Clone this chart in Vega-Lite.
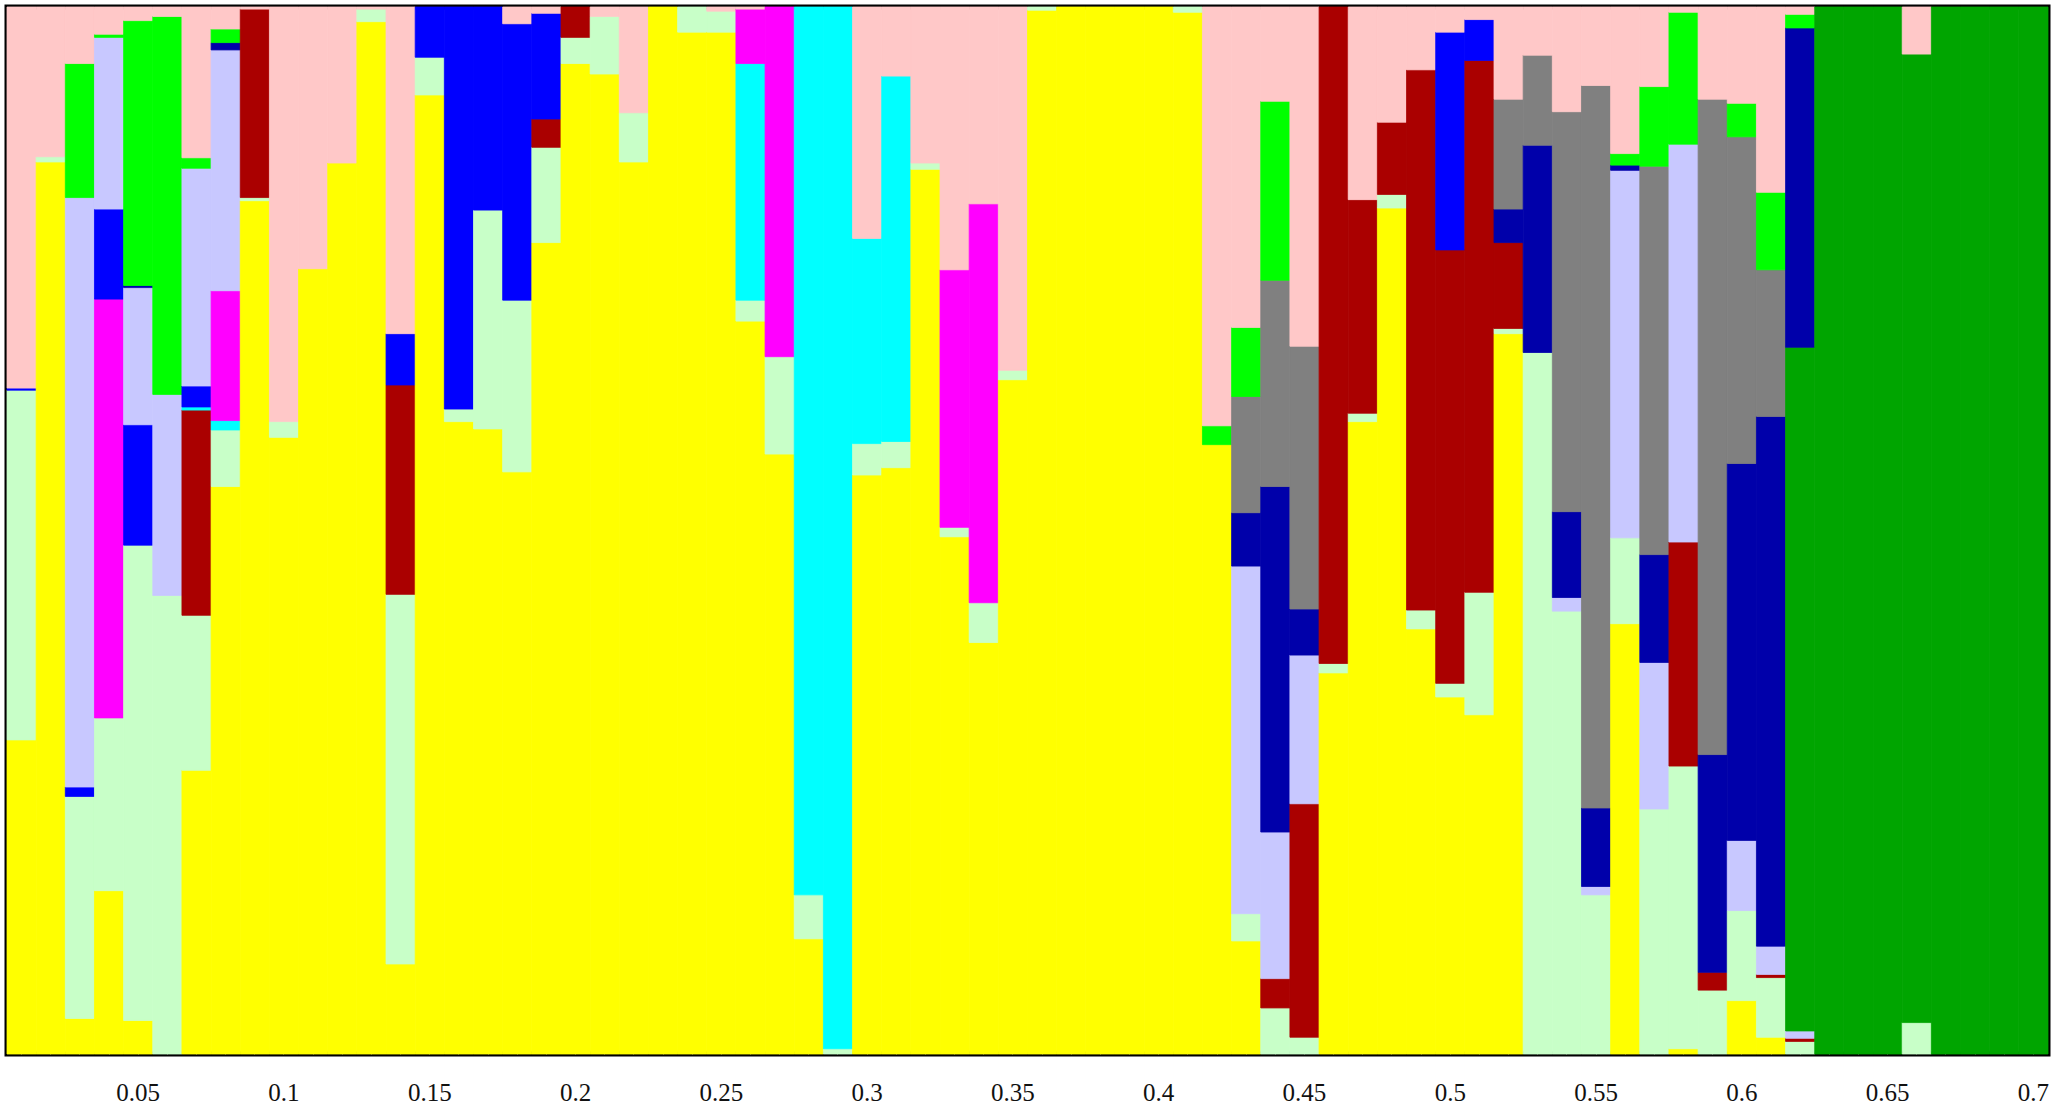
{
  "$schema": "https://vega.github.io/schema/vega-lite/v6.json",
  "autosize": "none",
  "width": 2041,
  "height": 1047,
  "padding": {"left": 7, "top": 7, "right": 4, "bottom": 54},
  "background": "white",
  "config": {"view": {"stroke": "#000000", "strokeWidth": 5}},
  "data": {"values": [
    {"x": 0.01, "c01": 0.300, "c02": 0.334, "c06": 0.002, "c12": 0.364},
    {"x": 0.02, "c01": 0.852, "c02": 0.005, "c12": 0.143},
    {"x": 0.03, "c01": 0.034, "c02": 0.212, "c06": 0.009, "c07": 0.563, "c11": 0.128, "c12": 0.054},
    {"x": 0.04, "c01": 0.156, "c02": 0.165, "c05": 0.400, "c06": 0.086, "c07": 0.164, "c11": 0.003, "c12": 0.026},
    {"x": 0.05, "c01": 0.032, "c02": 0.454, "c06": 0.115, "c07": 0.131, "c09": 0.002, "c11": 0.253, "c12": 0.013},
    {"x": 0.06, "c02": 0.438, "c07": 0.192, "c11": 0.361, "c12": 0.009},
    {"x": 0.07, "c01": 0.271, "c02": 0.148, "c03": 0.196, "c04": 0.003, "c06": 0.020, "c07": 0.208, "c11": 0.010, "c12": 0.144},
    {"x": 0.08, "c01": 0.542, "c02": 0.054, "c04": 0.009, "c05": 0.124, "c07": 0.230, "c09": 0.007, "c11": 0.013, "c12": 0.021},
    {"x": 0.09, "c01": 0.815, "c02": 0.003, "c03": 0.180, "c12": 0.002},
    {"x": 0.10, "c01": 0.589, "c02": 0.015, "c12": 0.396},
    {"x": 0.11, "c01": 0.750, "c12": 0.250},
    {"x": 0.12, "c01": 0.851, "c12": 0.149},
    {"x": 0.13, "c01": 0.986, "c02": 0.012, "c12": 0.002},
    {"x": 0.14, "c01": 0.086, "c02": 0.353, "c03": 0.200, "c06": 0.049, "c12": 0.312},
    {"x": 0.15, "c01": 0.916, "c02": 0.036, "c06": 0.048},
    {"x": 0.16, "c01": 0.604, "c02": 0.012, "c06": 0.384},
    {"x": 0.17, "c01": 0.597, "c02": 0.209, "c06": 0.194},
    {"x": 0.18, "c01": 0.556, "c02": 0.164, "c06": 0.264, "c12": 0.016},
    {"x": 0.19, "c01": 0.775, "c02": 0.091, "c03": 0.027, "c06": 0.101, "c12": 0.006},
    {"x": 0.20, "c01": 0.946, "c02": 0.025, "c03": 0.029},
    {"x": 0.21, "c01": 0.936, "c02": 0.055, "c12": 0.009},
    {"x": 0.22, "c01": 0.852, "c02": 0.047, "c12": 0.101},
    {"x": 0.23, "c01": 1.0},
    {"x": 0.24, "c01": 0.976, "c02": 0.024},
    {"x": 0.25, "c01": 0.976, "c02": 0.020, "c12": 0.004},
    {"x": 0.26, "c01": 0.700, "c02": 0.020, "c04": 0.226, "c05": 0.052, "c12": 0.002},
    {"x": 0.27, "c01": 0.573, "c02": 0.093, "c05": 0.334},
    {"x": 0.28, "c01": 0.110, "c02": 0.042, "c04": 0.848},
    {"x": 0.29, "c02": 0.005, "c04": 0.995},
    {"x": 0.30, "c01": 0.553, "c02": 0.030, "c04": 0.196, "c12": 0.221},
    {"x": 0.31, "c01": 0.560, "c02": 0.025, "c04": 0.349, "c12": 0.066},
    {"x": 0.32, "c01": 0.845, "c02": 0.006, "c12": 0.149},
    {"x": 0.33, "c01": 0.494, "c02": 0.009, "c05": 0.246, "c12": 0.251},
    {"x": 0.34, "c01": 0.393, "c02": 0.038, "c05": 0.381, "c12": 0.188},
    {"x": 0.35, "c01": 0.644, "c02": 0.009, "c12": 0.347},
    {"x": 0.36, "c01": 0.997, "c02": 0.003},
    {"x": 0.37, "c01": 1.0},
    {"x": 0.38, "c01": 1.0},
    {"x": 0.39, "c01": 1.0},
    {"x": 0.40, "c01": 1.0},
    {"x": 0.41, "c01": 0.995, "c02": 0.005},
    {"x": 0.42, "c01": 0.582, "c11": 0.018, "c12": 0.400},
    {"x": 0.43, "c01": 0.108, "c02": 0.026, "c07": 0.332, "c09": 0.051, "c10": 0.111, "c11": 0.066, "c12": 0.306},
    {"x": 0.44, "c02": 0.044, "c03": 0.028, "c07": 0.140, "c09": 0.330, "c10": 0.197, "c11": 0.171, "c12": 0.090},
    {"x": 0.45, "c02": 0.016, "c03": 0.223, "c07": 0.142, "c09": 0.044, "c10": 0.251, "c12": 0.324},
    {"x": 0.46, "c01": 0.364, "c02": 0.009, "c03": 0.627},
    {"x": 0.47, "c01": 0.604, "c02": 0.008, "c03": 0.204, "c12": 0.184},
    {"x": 0.48, "c01": 0.808, "c02": 0.013, "c03": 0.069, "c12": 0.110},
    {"x": 0.49, "c01": 0.406, "c02": 0.018, "c03": 0.516, "c12": 0.060},
    {"x": 0.50, "c01": 0.341, "c02": 0.013, "c03": 0.414, "c06": 0.208, "c12": 0.024},
    {"x": 0.51, "c01": 0.324, "c02": 0.117, "c03": 0.508, "c06": 0.039, "c12": 0.012},
    {"x": 0.52, "c01": 0.688, "c02": 0.005, "c03": 0.082, "c09": 0.032, "c10": 0.105, "c12": 0.088},
    {"x": 0.53, "c02": 0.670, "c09": 0.198, "c10": 0.086, "c12": 0.046},
    {"x": 0.54, "c02": 0.423, "c07": 0.013, "c09": 0.082, "c10": 0.382, "c12": 0.100},
    {"x": 0.55, "c02": 0.152, "c07": 0.008, "c09": 0.075, "c10": 0.690, "c12": 0.075},
    {"x": 0.56, "c01": 0.411, "c02": 0.082, "c07": 0.351, "c09": 0.005, "c11": 0.011, "c12": 0.140},
    {"x": 0.57, "c02": 0.234, "c07": 0.140, "c09": 0.103, "c10": 0.371, "c11": 0.076, "c12": 0.076},
    {"x": 0.58, "c01": 0.005, "c02": 0.270, "c03": 0.214, "c07": 0.380, "c11": 0.126, "c12": 0.005},
    {"x": 0.59, "c02": 0.061, "c03": 0.017, "c09": 0.208, "c10": 0.626, "c12": 0.088},
    {"x": 0.60, "c01": 0.051, "c02": 0.086, "c07": 0.067, "c09": 0.360, "c10": 0.312, "c11": 0.032, "c12": 0.092},
    {"x": 0.61, "c01": 0.016, "c02": 0.057, "c03": 0.003, "c07": 0.027, "c09": 0.506, "c10": 0.140, "c11": 0.074, "c12": 0.177},
    {"x": 0.62, "c02": 0.012, "c03": 0.003, "c07": 0.007, "c08": 0.653, "c09": 0.305, "c11": 0.013, "c12": 0.007},
    {"x": 0.63, "c08": 1.0},
    {"x": 0.64, "c08": 1.0},
    {"x": 0.65, "c08": 1.0},
    {"x": 0.66, "c02": 0.030, "c08": 0.925, "c12": 0.045},
    {"x": 0.67, "c08": 1.0},
    {"x": 0.68, "c08": 1.0},
    {"x": 0.69, "c08": 1.0},
    {"x": 0.70, "c08": 1.0}
  ]},
  "transform": [
    {"fold": ["c01", "c02", "c03", "c04", "c05", "c06", "c07", "c08", "c09", "c10", "c11", "c12"], "as": ["k", "v"]},
    {"filter": "isValid(datum.v)"}
  ],
  "mark": {"type": "bar", "strokeWidth": 0.8},
  "encoding": {
    "x": {
      "field": "x", "type": "ordinal",
      "scale": {"paddingInner": 0, "paddingOuter": 0},
      "axis": {
        "title": null, "labelAngle": 0, "domain": false,
        "ticks": true, "tickSize": -4, "tickColor": "#777777", "tickWidth": 1,
        "labelFont": "Liberation Serif", "labelFontSize": 25, "labelColor": "#111111",
        "labelPadding": 30,
        "labelExpr": "round(datum.value * 100) % 5 === 0 ? datum.label : ''"
      }
    },
    "y": {
      "field": "v", "type": "quantitative", "stack": "zero",
      "scale": {"domain": [0, 1], "nice": false},
      "axis": null
    },
    "color": {
      "field": "k", "type": "nominal", "legend": null,
      "scale": {
        "domain": ["c01", "c02", "c03", "c04", "c05", "c06", "c07", "c08", "c09", "c10", "c11", "c12"],
        "range": ["#FFFF00", "#C8FFC8", "#AA0000", "#00FFFF", "#FF00FF", "#0000FF", "#C8C8FF", "#00A500", "#0000AA", "#808080", "#00FF00", "#FFC8C8"]
      }
    },
    "stroke": {
      "field": "k", "type": "nominal", "legend": null,
      "scale": {
        "domain": ["c01", "c02", "c03", "c04", "c05", "c06", "c07", "c08", "c09", "c10", "c11", "c12"],
        "range": ["#FFFF00", "#C8FFC8", "#AA0000", "#00FFFF", "#FF00FF", "#0000FF", "#C8C8FF", "#00A500", "#0000AA", "#808080", "#00FF00", "#FFC8C8"]
      }
    },
    "order": {"field": "k", "type": "ordinal", "sort": "ascending"}
  }
}
